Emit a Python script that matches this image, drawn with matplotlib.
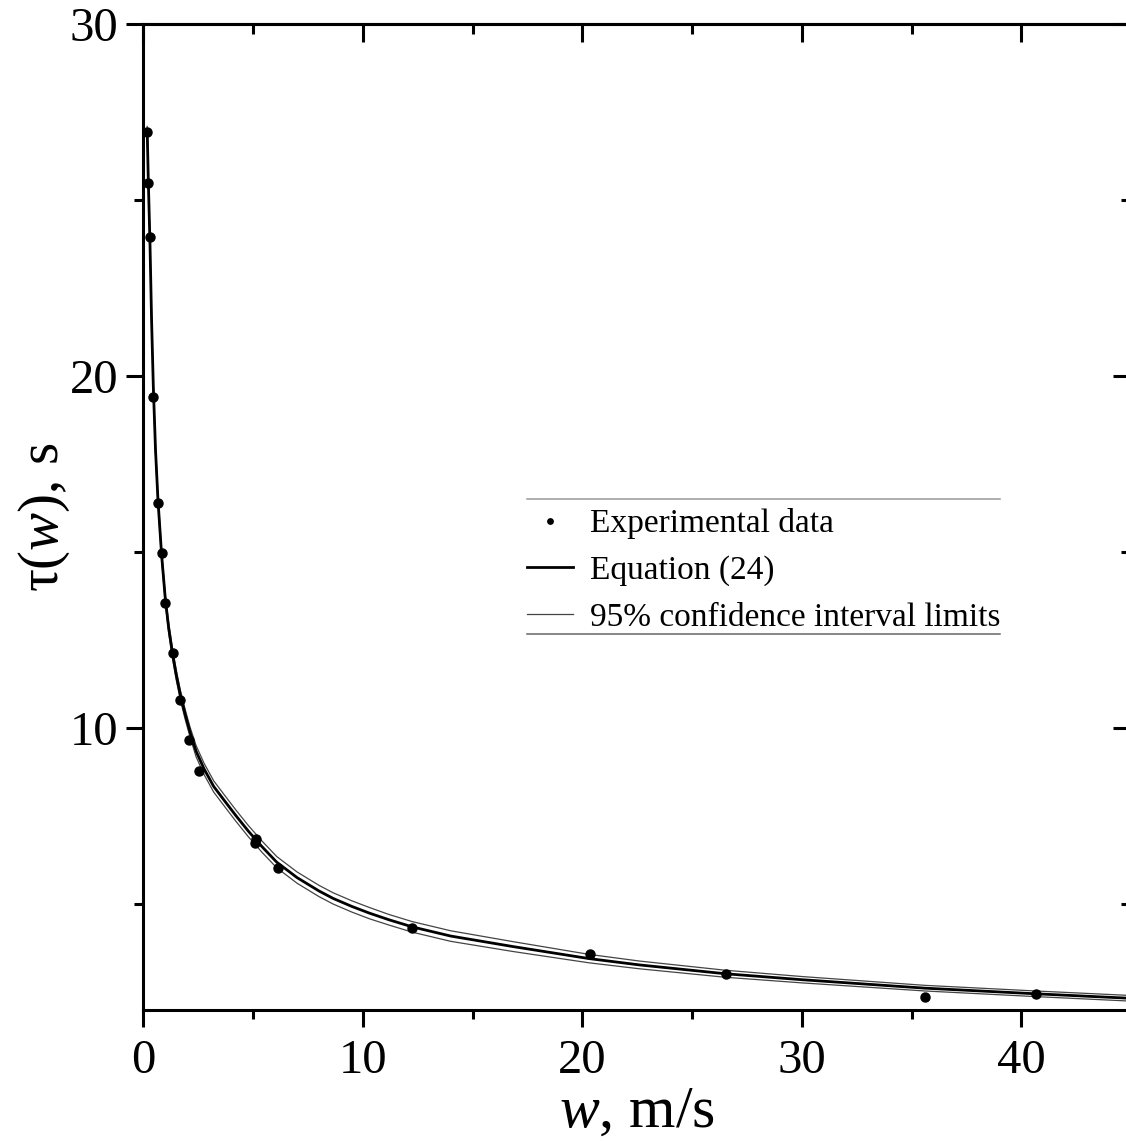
import matplotlib
matplotlib.use('Agg')
import matplotlib.pyplot as plt
from matplotlib.ticker import MultipleLocator

plt.rcParams['font.family'] = 'Liberation Serif'
plt.rcParams['mathtext.fontset'] = 'custom'
plt.rcParams['mathtext.rm'] = 'Liberation Serif'
plt.rcParams['mathtext.it'] = 'Liberation Serif:italic'

# experimental points
w_exp = [0.17, 0.22, 0.30, 0.45, 0.66, 0.83, 0.99, 1.33, 1.68, 2.06, 2.54,
         5.11, 5.09, 6.12, 12.25, 20.33, 26.54, 35.59, 40.65]
tau_exp = [26.93, 25.5, 23.97, 19.42, 16.39, 14.99, 13.57, 12.13, 10.8, 9.67, 8.8,
           6.87, 6.73, 6.04, 4.32, 3.6, 3.01, 2.36, 2.44]

# equation (24) and the 95% limits
w_fit = [0.17, 0.22, 0.30, 0.37, 0.45, 0.55, 0.66, 0.83, 1.0, 1.15, 1.33, 1.5,
         1.68, 1.9, 2.12, 2.4, 2.76, 3.2, 3.71, 4.2, 4.78, 5.4, 6.07, 7.0, 8.0, 8.64,
         9.5, 10.3, 11.2, 12.25, 14.0, 16.85, 20.3, 22.6, 26.5, 30.0, 35.6, 40.65, 44.7, 45.0]
tau_fit = [27.0, 25.6, 23.7, 21.6, 19.7, 17.9, 16.5, 14.9, 13.65, 12.85, 12.1, 11.5,
           10.95, 10.4, 9.9, 9.35, 8.85, 8.35, 7.93, 7.53, 7.08, 6.64, 6.2, 5.76, 5.38, 5.17,
           4.94, 4.75, 4.56, 4.36, 4.10, 3.80, 3.46, 3.28, 3.03, 2.86, 2.62, 2.46, 2.34, 2.33]
tau_low = [26.9, 25.5, 23.6, 21.5, 19.6, 17.78, 16.38, 14.78, 13.53, 12.71, 11.96, 11.36,
           10.81, 10.26, 9.76, 9.19, 8.69, 8.19, 7.77, 7.37, 6.92, 6.48, 6.04, 5.60, 5.22, 5.01,
           4.78, 4.59, 4.41, 4.21, 3.95, 3.66, 3.34, 3.17, 2.93, 2.77, 2.54, 2.38, 2.26, 2.25]
tau_up = [27.1, 25.7, 23.8, 21.7, 19.8, 18.02, 16.62, 15.02, 13.77, 12.99, 12.24, 11.64,
          11.09, 10.54, 10.04, 9.51, 9.01, 8.51, 8.09, 7.69, 7.24, 6.80, 6.36, 5.92, 5.54, 5.33,
          5.10, 4.91, 4.71, 4.51, 4.25, 3.94, 3.58, 3.39, 3.13, 2.95, 2.70, 2.54, 2.42, 2.41]

fig = plt.figure(figsize=(11.26, 11.42), dpi=100)
ax = fig.add_axes([0.1274, 0.1156, 0.8772, 0.8631])

ax.plot(w_fit, tau_low, color='#444444', lw=0.9, label='95% confidence interval limits')
ax.plot(w_fit, tau_up, color='#444444', lw=0.9)
ax.plot(w_fit, tau_fit, color='black', lw=2.0, label='Equation (24)')
ax.plot(w_exp, tau_exp, 'o', color='black', ms=6.5, label='Experimental data')

ax.set_xlim(0, 45)
ax.set_ylim(2, 30)
ax.xaxis.set_major_locator(MultipleLocator(10))
ax.xaxis.set_minor_locator(MultipleLocator(5))
ax.yaxis.set_major_locator(MultipleLocator(10))
ax.yaxis.set_minor_locator(MultipleLocator(5))

for s in ax.spines.values():
    s.set_linewidth(2.2)
ax.tick_params(which='major', direction='out', length=12, width=2.2, labelsize=35)
ax.tick_params(axis='x', which='major', pad=9)
ax.tick_params(axis='y', which='major', pad=6)
ax.tick_params(which='minor', direction='out', length=6.5, width=2.2)

# top and right ticks point inwards
top = ax.secondary_xaxis('top')
top.xaxis.set_major_locator(MultipleLocator(10))
top.xaxis.set_minor_locator(MultipleLocator(5))
top.tick_params(which='major', direction='in', length=13, width=2.2, labeltop=False)
top.tick_params(which='minor', direction='in', length=7, width=2.2)
right = ax.secondary_yaxis('right')
right.yaxis.set_major_locator(MultipleLocator(10))
right.yaxis.set_minor_locator(MultipleLocator(5))
right.tick_params(which='major', direction='in', length=13, width=2.2, labelright=False)
right.tick_params(which='minor', direction='in', length=7, width=2.2)
for sa in (top, right):
    for s in sa.spines.values():
        s.set_linewidth(2.2)

ax.set_xlabel(r'$\mathit{w}$, m/s', fontsize=43, labelpad=2)
ax.set_ylabel(r'$\mathrm{τ}(\mathit{w})$, s', fontsize=41, labelpad=-2)

# legend order as in the picture
h, l = ax.get_legend_handles_labels()
order = [2, 1, 0]
leg = ax.legend([h[i] for i in order], [l[i] for i in order], loc='upper left',
                bbox_to_anchor=(0.388, 0.509), frameon=False, fontsize=24,
                handlelength=1.4, handletextpad=0.5, labelspacing=0.48,
                borderpad=0, borderaxespad=0, markerscale=0.6)

# only a top and bottom rule round the legend
ax.plot([0.388, 0.867], [0.518, 0.518], transform=ax.transAxes, color='#999999', lw=1.1, clip_on=False)
ax.plot([0.388, 0.867], [0.381, 0.381], transform=ax.transAxes, color='#666666', lw=1.1, clip_on=False)

fig.savefig('out.png', dpi=100)
